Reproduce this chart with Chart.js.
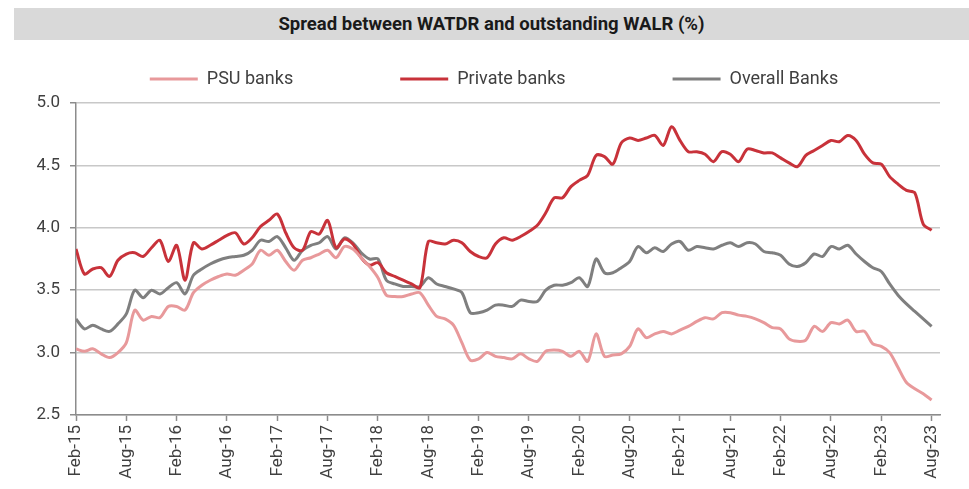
<!DOCTYPE html>
<html>
<head>
<meta charset="utf-8">
<script src="https://cdn.jsdelivr.net/npm/chart.js@4.4.0/dist/chart.umd.min.js"></script>
<style>
  html, body { margin: 0; padding: 0; background: #fff; }
  #wrap { position: relative; width: 969px; height: 489px; }
  #title {
    position: absolute; left: 14px; top: 8px; right: 0; height: 32px;
    background: #d9d9d9; color: #1a1a1a;
    font: 700 18.5px Roboto, sans-serif; line-height: 32px; text-align: center;
  }
  canvas { position: absolute; left: 0; top: 0; }
</style>
</head>
<body>
<div id="wrap">
  <canvas id="chart" width="969" height="489"></canvas>
  <div id="title">Spread between WATDR and outstanding WALR (%)</div>
</div>
<script>
// monthly series, Feb-15 .. Aug-23
const tickLabels = ['Feb-15', 'Aug-15', 'Feb-16', 'Aug-16', 'Feb-17', 'Aug-17', 'Feb-18', 'Aug-18', 'Feb-19',
  'Aug-19', 'Feb-20', 'Aug-20', 'Feb-21', 'Aug-21', 'Feb-22', 'Aug-22', 'Feb-23', 'Aug-23'];

const psuBanks = [
  3.03, 3.01, 3.03, 2.99, 2.96, 3.00, 3.08, 3.34, 3.26, 3.29,
  3.28, 3.37, 3.37, 3.34, 3.48, 3.54, 3.58, 3.61, 3.63, 3.62,
  3.66, 3.71, 3.82, 3.78, 3.82, 3.73, 3.66, 3.74, 3.76, 3.79,
  3.82, 3.76, 3.85, 3.83, 3.76, 3.69, 3.60, 3.46, 3.45, 3.45,
  3.47, 3.48, 3.38, 3.29, 3.27, 3.22, 3.08, 2.94, 2.95, 3.00,
  2.97, 2.96, 2.95, 2.99, 2.95, 2.93, 3.01, 3.02, 3.01, 2.97,
  3.01, 2.93, 3.15, 2.97, 2.98, 2.99, 3.05, 3.19, 3.12, 3.15,
  3.17, 3.15, 3.18, 3.21, 3.25, 3.28, 3.27, 3.32, 3.32, 3.30,
  3.29, 3.27, 3.24, 3.20, 3.19, 3.11, 3.09, 3.10, 3.21, 3.17,
  3.24, 3.23, 3.26, 3.17, 3.17, 3.07, 3.05, 3.00, 2.88, 2.76,
  2.71, 2.67, 2.62
];

const privateBanks = [
  3.83, 3.63, 3.67, 3.68, 3.61, 3.74, 3.79, 3.80, 3.77, 3.84,
  3.90, 3.73, 3.86, 3.58, 3.88, 3.83, 3.86, 3.90, 3.94, 3.96,
  3.87, 3.92, 4.01, 4.06, 4.11, 3.96, 3.84, 3.82, 3.97, 3.95,
  4.06, 3.84, 3.91, 3.87, 3.76, 3.70, 3.72, 3.64, 3.61, 3.58,
  3.55, 3.52, 3.89, 3.88, 3.87, 3.90, 3.88, 3.81, 3.77, 3.76,
  3.87, 3.92, 3.90, 3.93, 3.97, 4.02, 4.12, 4.24, 4.24, 4.33,
  4.38, 4.42, 4.58, 4.57, 4.51, 4.68, 4.72, 4.70, 4.72, 4.74,
  4.66, 4.81, 4.70, 4.61, 4.61, 4.59, 4.53, 4.61, 4.59, 4.53,
  4.63, 4.62, 4.60, 4.60, 4.56, 4.52, 4.49, 4.58, 4.62, 4.66,
  4.70, 4.69, 4.74, 4.70, 4.59, 4.52, 4.51, 4.41, 4.35, 4.30,
  4.28, 4.03, 3.98
];

const overallBanks = [
  3.27, 3.19, 3.22, 3.19, 3.17, 3.23, 3.31, 3.50, 3.44, 3.50,
  3.47, 3.52, 3.56, 3.47, 3.62, 3.67, 3.71, 3.74, 3.76, 3.77,
  3.78, 3.82, 3.90, 3.89, 3.93, 3.84, 3.74, 3.82, 3.86, 3.88,
  3.93, 3.83, 3.92, 3.88, 3.80, 3.75, 3.75, 3.58, 3.55, 3.53,
  3.53, 3.53, 3.60, 3.55, 3.53, 3.51, 3.48, 3.32, 3.32, 3.34,
  3.38, 3.38, 3.37, 3.42, 3.41, 3.41, 3.50, 3.54, 3.54, 3.56,
  3.60, 3.53, 3.75, 3.64, 3.64, 3.68, 3.73, 3.85, 3.80, 3.84,
  3.81, 3.87, 3.89, 3.82, 3.85, 3.84, 3.83, 3.86, 3.88, 3.85,
  3.88, 3.87, 3.81, 3.80, 3.78, 3.71, 3.69, 3.72, 3.79, 3.77,
  3.85, 3.83, 3.86, 3.79, 3.73, 3.68, 3.65, 3.55, 3.46, 3.39,
  3.33, 3.27, 3.21
];

const toPoints = arr => arr.map((v, i) => ({ x: i, y: v }));

function series(label, values, color) {
  return {
    label: label,
    data: toPoints(values),
    borderColor: color,
    backgroundColor: color,
    borderWidth: 3,
    pointRadius: 0,
    tension: 0.3,
    fill: false
  };
}

const legendGap = 107;

// legend keeps a fixed band height; wide item gaps, so lift it back up and nudge it right
const legendBand = {
  id: 'legendBand',
  beforeInit(chart) {
    const fit = chart.legend.fit;
    chart.legend.fit = function () {
      fit.call(this);
      this.height = 46;
    };
  },
  afterLayout(chart) {
    const lg = chart.legend;
    lg.top -= legendGap - 13;
    lg.left += 24;
    lg.right += 24;
  }
};

const axisGrey = '#8c8c8c';
const textColor = '#404040';

new Chart(document.getElementById('chart').getContext('2d'), {
  type: 'line',
  data: {
    datasets: [
      series('PSU banks', psuBanks, '#e8999b'),
      series('Private banks', privateBanks, '#c8323a'),
      series('Overall Banks', overallBanks, '#7f7f7f')
    ]
  },
  options: {
    responsive: false,
    animation: false,
    layout: { padding: { top: 57, left: 0, right: 29, bottom: 0 } },
    plugins: {
      legend: {
        position: 'top',
        labels: {
          usePointStyle: true,
          pointStyle: 'line',
          pointStyleWidth: 48,
          padding: legendGap,
          color: textColor,
          font: { family: 'Roboto', size: 18 }
        }
      },
      tooltip: { enabled: false }
    },
    scales: {
      x: {
        type: 'linear',
        min: 0,
        max: 103,
        afterFit(scale) { scale.height = 74; },
        border: { color: axisGrey, width: 1.5 },
        grid: { drawOnChartArea: false, drawTicks: true, tickLength: 6, tickColor: axisGrey, tickWidth: 1.5 },
        ticks: {
          stepSize: 6,
          includeBounds: false,
          autoSkip: false,
          maxRotation: 90,
          minRotation: 90,
          padding: 4,
          color: textColor,
          font: { family: 'Roboto', size: 17 },
          callback: v => tickLabels[v / 6] || ''
        }
      },
      y: {
        min: 2.5,
        max: 5.0,
        afterFit(scale) { scale.width = 76; },
        border: { color: axisGrey, width: 1.5 },
        grid: { color: '#c8c8c8', lineWidth: 1.5, tickLength: 6, tickColor: axisGrey, tickWidth: 1.5 },
        ticks: {
          stepSize: 0.5,
          padding: 10,
          color: textColor,
          font: { family: 'Roboto', size: 17 },
          callback: v => v.toFixed(1)
        }
      }
    }
  },
  plugins: [legendBand]
});
</script>
</body>
</html>
